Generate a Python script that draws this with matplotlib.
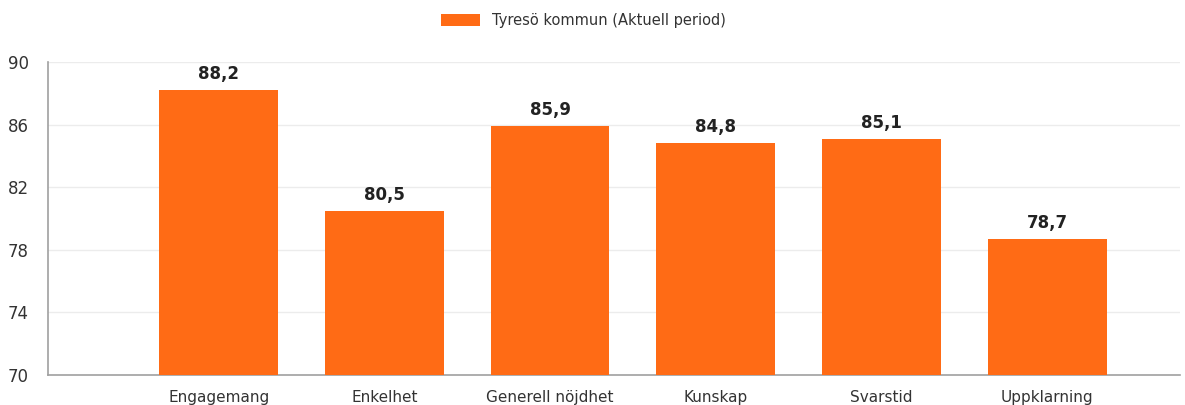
import matplotlib.pyplot as plt
from matplotlib.patches import Patch

categories = ["Engagemang", "Enkelhet", "Generell nöjdhet", "Kunskap", "Svarstid", "Uppklarning"]
values = [88.2, 80.5, 85.9, 84.8, 85.1, 78.7]
series_name = "Tyresö kommun (Aktuell period)"
y_ticks = [70, 74, 78, 82, 86, 90]

BAR_COLOR = "#FF6B15"
TEXT_COLOR = "#333333"

plt.rcParams["font.family"] = ["DejaVu Sans"]

fig = plt.figure(figsize=(11.85, 4.05), dpi=100)
ax = fig.add_axes([0.0405, 0.074, 0.955, 0.773])

x = list(range(len(categories)))
ax.bar(x, values, width=0.717, color=BAR_COLOR, edgecolor="none", zorder=3)

for xi, v in zip(x, values):
    ax.text(xi, v + 0.45, f"{v:.1f}".replace(".", ","), ha="center", va="bottom",
            fontsize=12, fontweight="bold", color="#222222", zorder=4)

ax.set_xlim(-1.03, 5.8)
ax.set_ylim(70, 90)
ax.set_yticks(y_ticks)
ax.set_xticks(x)
ax.set_xticklabels(categories, fontsize=11)
ax.tick_params(axis="both", length=0, colors=TEXT_COLOR)
ax.tick_params(axis="y", labelsize=12, pad=14)
ax.tick_params(axis="x", pad=11)
ax.grid(axis="y", color="#ececec", linewidth=1, zorder=0)

for side in ["top", "right"]:
    ax.spines[side].set_visible(False)
ax.spines["left"].set_color("#a0a0a0")
ax.spines["bottom"].set_color("#a0a0a0")
ax.spines["left"].set_linewidth(1.2)
ax.spines["bottom"].set_linewidth(1.2)

handle = Patch(facecolor=BAR_COLOR, edgecolor="none")
fig.legend([handle], [series_name], loc="upper center", bbox_to_anchor=(0.492, 1.0),
           frameon=False, fontsize=10.5, handlelength=2.7, handleheight=0.8,
           labelcolor=TEXT_COLOR)

fig.savefig("out.png", dpi=100)
